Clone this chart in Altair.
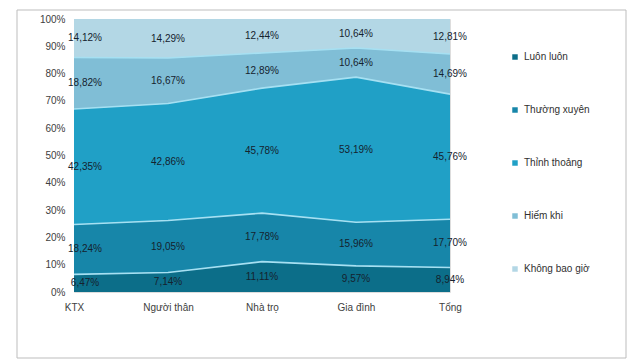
import altair as alt
import pandas as pd

categories = ["KTX", "Người thân", "Nhà trọ", "Gia đình", "Tổng"]
series = ["Luôn luôn", "Thường xuyên", "Thỉnh thoảng", "Hiếm khi", "Không bao giờ"]
luon_luon = [6.47, 7.14, 11.11, 9.57, 8.94]
thuong_xuyen = [18.24, 19.05, 17.78, 15.96, 17.70]
thinh_thoang = [42.35, 42.86, 45.78, 53.19, 45.76]
hiem_khi = [18.82, 16.67, 12.89, 10.64, 14.69]
khong_bao_gio = [14.12, 14.29, 12.44, 10.64, 12.81]
y_ticks = [0, 0.1, 0.2, 0.3, 0.4, 0.5, 0.6, 0.7, 0.8, 0.9, 1.0]
colors = ["#0C6E89", "#1786A9", "#20A0C6", "#80BED6", "#B3D7E5"]

rows = []
for si, (name, vals) in enumerate(zip(series, [luon_luon, thuong_xuyen, thinh_thoang, hiem_khi, khong_bao_gio])):
    for ci, c in enumerate(categories):
        rows.append({"cat": c, "series": name, "ord": si, "value": vals[ci]})
df = pd.DataFrame(rows)

FONT = "Liberation Sans"

x_axis = alt.Axis(title=None, labelAngle=0, labelFontSize=10, labelColor="#404040",
                  labelFont=FONT, ticks=False, domain=False, labelPadding=10)
y_axis = alt.Axis(title=None, format="%", values=y_ticks,
                  labelFontSize=10, labelColor="#404040", labelFont=FONT,
                  labelOverlap=False, labelBound=False,
                  ticks=False, domain=False, grid=False, labelPadding=9)
x_scale = alt.Scale(type="point", padding=0)
y_scale = alt.Scale(domain=[0, 1], nice=False)

base = alt.Chart(df)

area = base.mark_area(interpolate="linear").encode(
    x=alt.X("cat:N", sort=categories, scale=x_scale, axis=x_axis),
    y=alt.Y("value:Q", stack="normalize", scale=y_scale, axis=y_axis),
    color=alt.Color("series:N", sort=series,
                    scale=alt.Scale(domain=series, range=colors),
                    legend=alt.Legend(title=None, orient="none", legendX=436, legendY=33,
                                      symbolType="square", symbolSize=30, symbolStrokeWidth=0,
                                      labelFontSize=10, labelFont=FONT, labelColor="#303030",
                                      rowPadding=43, labelOffset=4, padding=0)),
    order=alt.Order("ord:Q"),
)

stacked = base.transform_stack(
    stack="value", as_=["y0", "y1"], groupby=["cat"],
    sort=[alt.SortField("ord")], offset="normalize"
).transform_calculate(
    mid="(datum.y0 + datum.y1) / 2",
    label="replace(format(datum.value, '.2f'), '.', ',') + '%'"
)

lines = stacked.transform_filter("datum.ord < 4").mark_line(
    color="#A6E0F2", strokeWidth=1.6, interpolate="linear"
).encode(
    x=alt.X("cat:N", sort=categories, scale=x_scale, axis=x_axis),
    y=alt.Y("y1:Q", scale=y_scale, axis=y_axis),
    detail="series:N",
)

text_ktx = stacked.transform_filter("datum.cat == 'KTX'").mark_text(
    font=FONT, fontSize=10, color="#15222E", dx=11
).encode(
    x=alt.X("cat:N", sort=categories, scale=x_scale, axis=x_axis),
    y=alt.Y("mid:Q", scale=y_scale, axis=y_axis),
    text="label:N",
)

text_rest = stacked.transform_filter("datum.cat != 'KTX'").mark_text(
    font=FONT, fontSize=10, color="#15222E"
).encode(
    x=alt.X("cat:N", sort=categories, scale=x_scale, axis=x_axis),
    y=alt.Y("mid:Q", scale=y_scale, axis=y_axis),
    text="label:N",
)

border = alt.Chart(pd.DataFrame({"a": [0]})).mark_rect(
    fill=None, stroke="#BDBDBD", strokeWidth=1
).encode(
    x=alt.value(-57), x2=alt.value(552), y=alt.value(-9), y2=alt.value(339)
)

chart = alt.layer(border, area, lines, text_ktx, text_rest).properties(
    width=376, height=273,
    autosize=alt.AutoSizeParams(type="none"),
    padding={"left": 74, "top": 19, "right": 180, "bottom": 69},
).configure_view(stroke=None).configure(background="white")

chart.save("out.html", embed_options={"renderer": "svg", "actions": False})
